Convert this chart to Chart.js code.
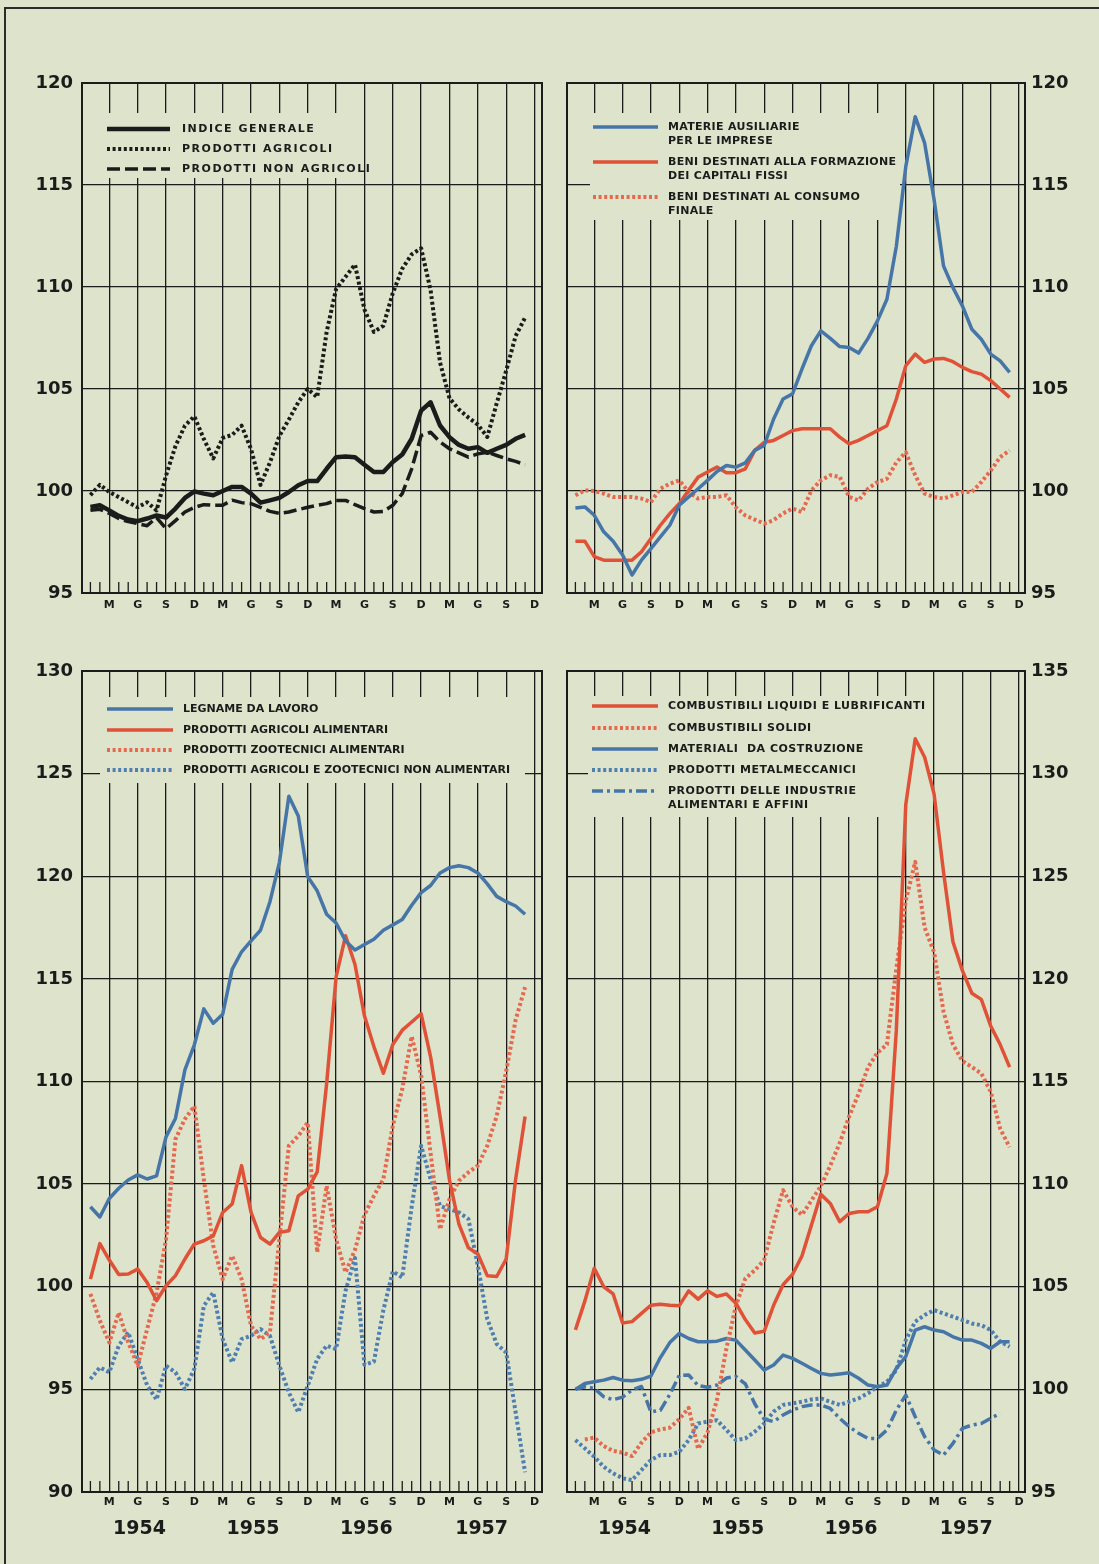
<!DOCTYPE html>
<html>
<head>
<meta charset="utf-8">
<title>Indici dei prezzi all'ingrosso 1954-1957</title>
<script src="https://cdn.jsdelivr.net/npm/chart.js@4.4.1/dist/chart.umd.min.js"></script>
<style>
    html, body { margin: 0; padding: 0; }
    body {
        width: 1099px; height: 1564px; position: relative; overflow: hidden;
        background: #dee3cb;
    }
    .cornice {
        position: absolute; left: 4px; top: 7px; width: 1200px; height: 1700px;
        border-left: 2px solid #2b2b2b; border-top: 2px solid #2b2b2b;
    }
    canvas { position: absolute; }
    #grafico1 { left: 0; top: 60px; }
    #grafico2 { left: 545px; top: 60px; }
    #grafico3 { left: 0; top: 640px; }
    #grafico4 { left: 545px; top: 640px; }
</style>
</head>
<body>
<div class="cornice"></div>
<canvas id="grafico1" width="560" height="560"></canvas>
<canvas id="grafico2" width="554" height="560"></canvas>
<canvas id="grafico3" width="560" height="924"></canvas>
<canvas id="grafico4" width="554" height="924"></canvas>

<script>
// ========================================
// INDICI DEI PREZZI - gennaio 1954 / novembre 1957 (mese 0 = gen 1954)
// ========================================

const monthLetters = ['M', 'G', 'S', 'D'];
const majorMonths = [2, 5, 8, 11, 14, 17, 20, 23, 26, 29, 32, 35, 38, 41, 44, 47];
const yearLabels = ['1954', '1955', '1956', '1957'];
const yearPositions = [5.2, 17.2, 29.2, 41.4];

const yRangeTop = [95, 120];
const yRangeBottomLeft = [90, 130];
const yRangeBottomRight = [95, 135];

// Pannello 1
const indiceGenerale = [99.22, 99.3, 99.05, 98.78, 98.6, 98.52, 98.65, 98.8, 98.7, 99.14,
    99.66, 99.98, 99.87, 99.79, 100.0, 100.2, 100.2, 99.87, 99.43, 99.54,
    99.66, 99.95, 100.28, 100.49, 100.49, 101.09, 101.66, 101.69, 101.66, 101.29,
    100.93, 100.93, 101.42, 101.79, 102.56, 103.94, 104.35, 103.21, 102.64, 102.26,
    102.07, 102.15, 101.87, 102.07, 102.26, 102.56, 102.75];
const prodottiAgricoli = [99.8, 100.3, 99.95, 99.7, 99.45, 99.2, 99.45, 99.05, 100.75, 102.2,
    103.2, 103.66, 102.55, 101.6, 102.6, 102.75, 103.2, 102.05, 100.3, 101.4,
    102.7, 103.5, 104.35, 105.0, 104.6, 107.8, 109.9, 110.5, 111.1, 108.9,
    107.8, 108.1, 109.7, 110.9, 111.6, 111.9, 109.85, 106.3, 104.55, 104.0,
    103.6, 103.25, 102.65, 104.3, 105.9, 107.6, 108.5];
const prodottiNonAgricoli = [99.05, 99.1, 98.9, 98.65, 98.5, 98.4, 98.3, 98.7, 98.15, 98.55,
    98.97, 99.2, 99.33, 99.3, 99.3, 99.55, 99.43, 99.38, 99.2, 99.0,
    98.9, 98.97, 99.09, 99.2, 99.3, 99.38, 99.54, 99.54, 99.33, 99.14,
    98.97, 99.0, 99.3, 99.87, 101.09, 102.72, 102.88, 102.4, 102.07, 101.87,
    101.66, 101.82, 101.9, 101.74, 101.58, 101.45, 101.29];

// Pannello 2
const materieAusiliarie = [99.17, 99.22, 98.81, 98.0, 97.54, 96.86, 95.88, 96.61, 97.18, 97.75,
    98.32, 99.3, 99.71, 100.11, 100.52, 100.96, 101.25, 101.17, 101.38, 101.99,
    102.23, 103.53, 104.51, 104.76, 105.98, 107.12, 107.85, 107.48, 107.08, 107.04,
    106.76, 107.48, 108.34, 109.4, 112.0, 115.9, 118.35, 117.05, 114.28, 111.03,
    109.97, 109.07, 107.93, 107.44, 106.71, 106.38, 105.81];
const capitaliFissi = [97.54, 97.54, 96.78, 96.61, 96.61, 96.61, 96.61, 97.02, 97.67, 98.32,
    98.89, 99.38, 100.03, 100.68, 100.93, 101.17, 100.9, 100.9, 101.09, 101.99,
    102.39, 102.48, 102.72, 102.96, 103.05, 103.05, 103.05, 103.05, 102.64, 102.31,
    102.48, 102.72, 102.96, 103.2, 104.51, 106.14, 106.71, 106.3, 106.47, 106.5,
    106.34, 106.06, 105.85, 105.73, 105.41, 105.0, 104.59];
const consumoFinale = [99.79, 100.03, 100.0, 99.87, 99.71, 99.71, 99.71, 99.63, 99.46, 100.11,
    100.36, 100.52, 99.95, 99.63, 99.71, 99.71, 99.79, 99.2, 98.8, 98.6,
    98.4, 98.57, 98.9, 99.14, 98.97, 100.03, 100.52, 100.77, 100.7, 99.71,
    99.54, 100.11, 100.44, 100.6, 101.4, 101.9, 100.77, 99.87, 99.71, 99.63,
    99.79, 99.95, 99.95, 100.44, 101.0, 101.66, 101.99];

// Pannello 3
const legname = [103.9, 103.4, 104.3, 104.8, 105.2, 105.45, 105.25, 105.4, 107.3, 108.2,
    110.57, 111.79, 113.54, 112.84, 113.28, 115.46, 116.32, 116.85, 117.37, 118.76,
    120.68, 123.9, 122.94, 119.98, 119.29, 118.15, 117.72, 116.85, 116.41, 116.67,
    116.93, 117.37, 117.63, 117.89, 118.59, 119.2, 119.55, 120.16, 120.42, 120.51,
    120.42, 120.16, 119.63, 119.02, 118.76, 118.55, 118.15];
const agricoliAlimentari = [100.37, 102.1, 101.3, 100.6, 100.62, 100.86, 100.21, 99.32, 100.05, 100.54,
    101.35, 102.08, 102.24, 102.48, 103.62, 104.03, 105.9, 103.62, 102.4, 102.08,
    102.65, 102.73, 104.43, 104.76, 105.6, 109.9, 115.1, 117.1, 115.7, 113.2,
    111.7, 110.4, 111.8, 112.5, 112.9, 113.3, 111.2, 108.3, 105.2, 103.05,
    101.9, 101.6, 100.54, 100.5, 101.35, 105.24, 108.3];
const zootecniciAlimentari = [99.65, 98.35, 97.28, 98.74, 97.3, 96.15, 97.93, 99.7, 102.3, 107.19,
    108.17, 108.8, 105.24, 102.0, 100.37, 101.51, 100.37, 98.1, 97.45, 97.78,
    102.32, 106.87, 107.35, 108.0, 101.67, 104.92, 102.32, 100.7, 101.8, 103.5,
    104.43, 105.24, 107.84, 109.63, 112.2, 110.3, 106.5, 102.8, 104.27, 105.16,
    105.57, 105.9, 106.87, 108.33, 110.5, 113.0, 114.6];
const nonAlimentari = [95.5, 96.07, 95.83, 97.13, 97.78, 96.48, 95.2, 94.5, 96.15, 95.83,
    95.02, 96.0, 99.07, 99.72, 97.45, 96.31, 97.45, 97.61, 97.94, 97.61,
    96.15, 94.85, 93.88, 95.18, 96.48, 97.13, 96.96, 99.8, 101.4, 96.2,
    96.35, 98.85, 100.75, 100.45, 103.9, 106.87, 105.24, 103.94, 103.78, 103.62,
    103.3, 101.02, 98.43, 97.21, 96.8, 93.88, 90.96];

// Pannello 4
const combLiquidi = [102.9, 104.3, 105.9, 105.0, 104.65, 103.23, 103.3, 103.7, 104.1, 104.15,
    104.1, 104.08, 104.8, 104.4, 104.8, 104.53, 104.65, 104.2, 103.4, 102.75,
    102.83, 104.1, 105.1, 105.6, 106.5, 108.0, 109.5, 109.06, 108.17, 108.57,
    108.65, 108.65, 108.9, 110.52, 117.5, 128.5, 131.7, 130.8, 129.0, 125.2,
    121.8, 120.4, 119.3, 119.0, 117.7, 116.8, 115.7];
const combSolidi = [null, 97.56, 97.65, 97.24, 97.0, 96.92, 96.75, 97.4, 97.9, 98.05,
    98.13, 98.54, 99.1, 97.1, 97.9, 99.5, 102.0, 104.06, 105.4, 105.8,
    106.3, 108.1, 109.7, 108.9, 108.5, 109.2, 109.9, 110.9, 112.0, 113.3,
    114.4, 115.7, 116.4, 116.8, 120.5, 123.8, 125.7, 122.5, 121.3, 118.4,
    116.8, 116.0, 115.7, 115.4, 114.5, 112.7, 111.8];
const materialiCostruzione = [100.0, 100.29, 100.37, 100.45, 100.58, 100.45, 100.42, 100.49, 100.65, 101.55,
    102.28, 102.72, 102.48, 102.32, 102.32, 102.35, 102.48, 102.4, 101.92, 101.43,
    100.94, 101.19, 101.67, 101.51, 101.27, 101.02, 100.78, 100.7, 100.75, 100.81,
    100.54, 100.21, 100.13, 100.21, 101.02, 101.6, 102.89, 103.05, 102.89, 102.81,
    102.56, 102.4, 102.4, 102.24, 102.0, 102.32, 102.32];
const metalmeccanici = [97.53, 97.13, 96.72, 96.23, 95.91, 95.67, 95.58, 96.07, 96.56, 96.8,
    96.8, 96.96, 97.53, 98.34, 98.43, 98.5, 98.02, 97.53, 97.61, 97.94,
    98.34, 98.91, 99.24, 99.32, 99.4, 99.51, 99.56, 99.4, 99.24, 99.4,
    99.56, 99.81, 100.13, 100.37, 100.94, 102.4, 103.3, 103.62, 103.86, 103.7,
    103.54, 103.38, 103.21, 103.13, 102.89, 102.32, 102.08];
const industrieAlimentari = [100.0, 100.13, 100.05, 99.64, 99.5, 99.62, 99.97, 100.14, 98.9, 98.98,
    99.75, 100.68, 100.7, 100.19, 100.1, 100.21, 100.55, 100.63, 100.27, 99.3,
    98.55, 98.43, 98.75, 98.99, 99.16, 99.24, 99.24, 99.07, 98.59, 98.18,
    97.86, 97.61, 97.61, 98.02, 98.99, 99.72, 98.67, 97.69, 97.05, 96.8,
    97.37, 98.1, 98.26, 98.34, 98.59, 98.83, null];

const INK = '#1b1b1b';
const PAPER = '#dee3cb';
const BLUE = '#4675a8';
const BLUE_DOT = '#4f7fb0';
const RED = '#df5237';
const RED_DOT = '#e5694f';
const FONT = '"DejaVu Sans", sans-serif';

Chart.defaults.font.family = FONT;

function points(values) {
    return values.map((v, i) => ({ x: i, y: v }));
}

function series(lines, values, color, width, dash) {
    return {
        label: lines.join(' '),
        legendLines: lines,
        data: points(values),
        borderColor: color,
        borderWidth: width,
        borderDash: dash || [],
        borderCapStyle: 'butt',
        borderJoinStyle: 'round',
        pointRadius: 0,
        tension: 0,
        fill: false,
        spanGaps: false
    };
}

const DOTS = [3, 2.6];
const DASH = [13, 5];
const DASH_DOT = [11, 4, 3, 4];

// tacche mensili, cornice, fondo e testo della legenda
const panelDecor = {
    id: 'panelDecor',
    beforeDatasetsDraw(chart, args, opts) {
        const { ctx, chartArea: a } = chart;
        const xs = chart.scales.x;
        ctx.save();
        ctx.strokeStyle = INK;
        ctx.lineWidth = 1.3;
        for (let m = 0; m < 48; m++) {
            if (majorMonths.includes(m)) continue;
            const px = xs.getPixelForValue(m);
            ctx.beginPath();
            ctx.moveTo(px, a.bottom);
            ctx.lineTo(px, a.bottom - 11);
            ctx.stroke();
        }
        ctx.lineWidth = 2;
        ctx.strokeRect(a.left, a.top, a.right - a.left, a.bottom - a.top);
        const b = opts.box;
        ctx.fillStyle = PAPER;
        ctx.fillRect(a.left + b.x, a.top + b.y, b.w, b.h);
        ctx.restore();
    },
    afterDatasetsDraw(chart, args, opts) {
        const { ctx, chartArea: a } = chart;
        ctx.save();
        ctx.font = `bold ${opts.fontSize}px ${FONT}`;
        ctx.letterSpacing = opts.spacing + 'px';
        ctx.textBaseline = 'middle';
        ctx.fillStyle = INK;
        chart.data.datasets.forEach((ds, k) => {
            const y = a.top + opts.rows[k];
            ctx.strokeStyle = ds.borderColor;
            ctx.lineWidth = ds.borderWidth;
            ctx.setLineDash(ds.borderDash);
            ctx.beginPath();
            ctx.moveTo(a.left + opts.sample[0], y);
            ctx.lineTo(a.left + opts.sample[1], y);
            ctx.stroke();
            ds.legendLines.forEach((t, j) => {
                ctx.fillText(t, a.left + opts.textX, y + j * opts.lineGap);
            });
        });
        ctx.restore();
    }
};

function monthAxis(range, height, pad) {
    return {
        type: 'linear', position: 'bottom', min: range[0], max: range[1], weight: 0,
        afterBuildTicks: axis => { axis.ticks = majorMonths.map(v => ({ value: v })); },
        afterFit: axis => { axis.height = height; },
        ticks: {
            autoSkip: false, maxRotation: 0, padding: pad, color: INK,
            font: { size: 11, weight: 'bold' },
            callback: (v, i) => monthLetters[i % 4]
        },
        grid: { color: INK, lineWidth: 1.3, drawTicks: false },
        border: { color: INK, width: 2 }
    };
}

function yearAxis(range, height) {
    return {
        type: 'linear', position: 'bottom', min: range[0], max: range[1], weight: 1,
        afterBuildTicks: axis => { axis.ticks = yearPositions.map(v => ({ value: v })); },
        afterFit: axis => { axis.height = height; },
        ticks: {
            autoSkip: false, maxRotation: 0, padding: 4, color: INK,
            font: { size: 19, weight: 'bold' },
            callback: (v, i) => yearLabels[i]
        },
        grid: { display: false, drawTicks: false },
        border: { display: false }
    };
}

function valueAxis(range, side, width, pad) {
    return {
        position: side, min: range[0], max: range[1],
        afterFit: axis => { axis.width = width; },
        ticks: { stepSize: 5, padding: pad, color: INK, font: { size: 18, weight: 'bold' } },
        grid: { color: INK, lineWidth: 1.3, drawTicks: false },
        border: { color: INK, width: 2 }
    };
}

function buildChart(id, datasets, scales, padding, legend) {
    return new Chart(document.getElementById(id), {
        type: 'line',
        data: { datasets: datasets },
        options: {
            responsive: false,
            animation: false,
            devicePixelRatio: 1,
            events: [],
            layout: { padding: padding },
            scales: scales,
            plugins: {
                legend: { display: false },
                tooltip: { enabled: false },
                panelDecor: legend
            }
        },
        plugins: [panelDecor]
    });
}

const xLeft = [-0.89, 47.79];
const xRight = [-0.89, 47.63];

buildChart('grafico1', [
    series(['INDICE GENERALE'], indiceGenerale, INK, 4.5),
    series(['PRODOTTI AGRICOLI'], prodottiAgricoli, INK, 4, DOTS),
    series(['PRODOTTI NON AGRICOLI'], prodottiNonAgricoli, INK, 3.5, DASH)
], {
    x: monthAxis(xLeft, 27, 6),
    y: valueAxis(yRangeTop, 'left', 82, 9)
}, { top: 23, right: 18, bottom: 0, left: 0 }, {
    box: { x: 13, y: 30, w: 255, h: 65 },
    sample: [25, 88], textX: 100, rows: [46, 66, 86], lineGap: 14, fontSize: 11, spacing: 1.5
});

buildChart('grafico2', [
    series(['MATERIE AUSILIARIE', 'PER LE IMPRESE'], materieAusiliarie, BLUE, 3.5),
    series(['BENI DESTINATI ALLA FORMAZIONE', 'DEI CAPITALI FISSI'], capitaliFissi, RED, 3.5),
    series(['BENI DESTINATI AL CONSUMO', 'FINALE'], consumoFinale, RED_DOT, 4, DOTS)
], {
    x: monthAxis(xRight, 27, 6),
    y: valueAxis(yRangeTop, 'right', 74, 6)
}, { top: 23, right: 0, bottom: 0, left: 22 }, {
    box: { x: 23, y: 30, w: 310, h: 107 },
    sample: [26, 91], textX: 101, rows: [44, 79, 114], lineGap: 14, fontSize: 11, spacing: 0.3
});

buildChart('grafico3', [
    series(['LEGNAME DA LAVORO'], legname, BLUE, 3.5),
    series(['PRODOTTI AGRICOLI ALIMENTARI'], agricoliAlimentari, RED, 3.5),
    series(['PRODOTTI ZOOTECNICI ALIMENTARI'], zootecniciAlimentari, RED_DOT, 4, DOTS),
    series(['PRODOTTI AGRICOLI E ZOOTECNICI NON ALIMENTARI'], nonAlimentari, BLUE_DOT, 4, DOTS)
], {
    x: monthAxis(xLeft, 22, 4),
    years: yearAxis(xLeft, 50),
    y: valueAxis(yRangeBottomLeft, 'left', 82, 9)
}, { top: 31, right: 18, bottom: 0, left: 0 }, {
    box: { x: 18, y: 26, w: 425, h: 86 },
    sample: [25, 91], textX: 101, rows: [38, 59, 79, 99], lineGap: 14, fontSize: 11, spacing: 0
});

buildChart('grafico4', [
    series(['COMBUSTIBILI LIQUIDI E LUBRIFICANTI'], combLiquidi, RED, 3.5),
    series(['COMBUSTIBILI SOLIDI'], combSolidi, RED_DOT, 4, DOTS),
    series(['MATERIALI  DA COSTRUZIONE'], materialiCostruzione, BLUE, 3.5),
    series(['PRODOTTI METALMECCANICI'], metalmeccanici, BLUE_DOT, 4, DOTS),
    series(['PRODOTTI DELLE INDUSTRIE', 'ALIMENTARI E AFFINI'], industrieAlimentari, BLUE, 3.5, DASH_DOT)
], {
    x: monthAxis(xRight, 22, 4),
    years: yearAxis(xRight, 50),
    y: valueAxis(yRangeBottomRight, 'right', 74, 6)
}, { top: 31, right: 0, bottom: 0, left: 22 }, {
    box: { x: 21, y: 25, w: 342, h: 121 },
    sample: [25, 91], textX: 101, rows: [35, 57, 78, 99, 120], lineGap: 14, fontSize: 11, spacing: 0.5
});
</script>
</body>
</html>
